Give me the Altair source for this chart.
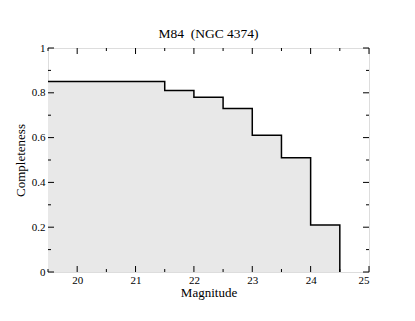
import altair as alt
import pandas as pd

# Bin left edges (magnitude) and completeness per bin; final edge closes the histogram
mag_edges = [19.5, 21.5, 22.0, 22.5, 23.0, 23.5, 24.0, 24.5]
completeness = [0.85, 0.81, 0.78, 0.73, 0.61, 0.51, 0.21, 0.0]

x_major = [20, 21, 22, 23, 24, 25]
x_minor = [19.5, 20.5, 21.5, 22.5, 23.5, 24.5]
y_major = [0.0, 0.2, 0.4, 0.6, 0.8, 1.0]
y_minor = [0.1, 0.3, 0.5, 0.7, 0.9]

W, H = 321, 224
FONT = "Liberation Serif"

df = pd.DataFrame({"mag": mag_edges, "comp": completeness})
xs = alt.Scale(domain=[19.5, 25], nice=False, zero=False)
ys = alt.Scale(domain=[0, 1], nice=False)

xaxis = alt.Axis(values=x_major, format="d", labelPadding=2, labelFont=FONT,
                 title="Magnitude", titlePadding=1)
yaxis = alt.Axis(values=y_major, labelFont=FONT,
                 labelExpr="datum.value == 0 ? '0' : datum.value == 1 ? '1' : format(datum.value, '.1f')",
                 labelPadding=3, title="Completeness", titlePadding=4)

area = alt.Chart(df).mark_area(interpolate="step-after", fill="#e8e8e8").encode(
    x=alt.X("mag:Q", scale=xs, axis=xaxis),
    y=alt.Y("comp:Q", scale=ys, axis=yaxis),
)

line = alt.Chart(df).mark_line(interpolate="step-after", color="black", strokeWidth=1.5).encode(
    x=alt.X("mag:Q", scale=xs, axis=xaxis), y=alt.Y("comp:Q", scale=ys, axis=yaxis)
)

def xticks(vals, length):
    d = pd.DataFrame({"mag": vals})
    bot = alt.Chart(d).mark_rule(color="black", strokeWidth=1).encode(
        x=alt.X("mag:Q", scale=xs, axis=xaxis), y=alt.value(H), y2=alt.value(H - length))
    top = alt.Chart(d).mark_rule(color="black", strokeWidth=1).encode(
        x=alt.X("mag:Q", scale=xs, axis=xaxis), y=alt.value(0), y2=alt.value(length))
    return [bot, top]

def yticks(vals, length):
    d = pd.DataFrame({"comp": vals})
    left = alt.Chart(d).mark_rule(color="black", strokeWidth=1).encode(
        y=alt.Y("comp:Q", scale=ys, axis=yaxis), x=alt.value(0), x2=alt.value(length))
    right = alt.Chart(d).mark_rule(color="black", strokeWidth=1).encode(
        y=alt.Y("comp:Q", scale=ys, axis=yaxis), x=alt.value(W), x2=alt.value(W - length))
    return [left, right]

ticks = xticks(x_major, 6) + xticks(x_minor, 3) + yticks(y_major, 6) + yticks(y_minor, 3)

chart = alt.layer(area, *ticks, line).properties(
    width=W, height=H,
    title=alt.TitleParams("M84\u00a0\u00a0(NGC 4374)", font=FONT, fontSize=13.5, fontWeight="normal",
                          color="black", offset=2),
    autosize=alt.AutoSizeParams(type="none"),
    padding={"left": 40, "top": 40, "right": 38, "bottom": 41},
).configure_view(stroke="black", strokeWidth=1.5).configure(background="white").configure_axis(
    tickSize=0, domain=False, grid=False,
    labelFont=FONT, labelFontSize=11, labelColor="black",
    titleFont=FONT, titleFontSize=13, titleFontWeight="normal", titleColor="black",
)

chart.save("out.html", embed_options={"renderer": "svg", "actions": False})
